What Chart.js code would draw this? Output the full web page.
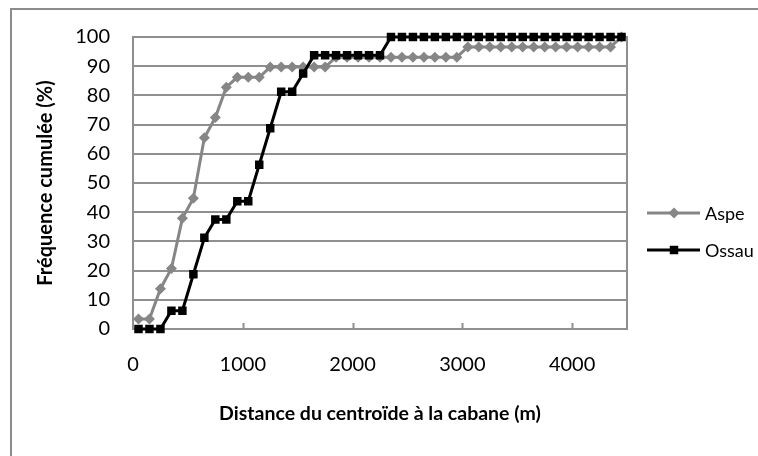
<!DOCTYPE html>
<html>
<head>
<meta charset="utf-8">
<script src="https://cdn.jsdelivr.net/npm/chart.js@4.4.0/dist/chart.umd.min.js"></script>
<style>
  html, body { margin: 0; padding: 0; background: #fff; }
  #wrap { position: relative; width: 758px; height: 456px; overflow: hidden; }
  #frame { position: absolute; left: 10px; top: 8px; right: -10px; bottom: -10px;
           border-left: 2px solid #8c8c8c; border-top: 2px solid #8c8c8c; }
  canvas { position: absolute; left: 0; top: 0; }
</style>
</head>
<body>
<div id="wrap">
  <div id="frame"></div>
  <canvas id="chart" width="758" height="456"></canvas>
</div>
<script>
// distance classes (m), centre of each 100 m bin
const distances = [50, 150, 250, 350, 450, 550, 650, 750, 850, 950,
  1050, 1150, 1250, 1350, 1450, 1550, 1650, 1750, 1850, 1950,
  2050, 2150, 2250, 2350, 2450, 2550, 2650, 2750, 2850, 2950,
  3050, 3150, 3250, 3350, 3450, 3550, 3650, 3750, 3850, 3950,
  4050, 4150, 4250, 4350, 4450];

// cumulative frequency (%) per valley
const aspe = [3.4, 3.4, 13.8, 20.7, 37.9, 44.8, 65.5, 72.4, 82.8, 86.2,
  86.2, 86.2, 89.7, 89.7, 89.7, 89.7, 89.7, 89.7, 93.1, 93.1,
  93.1, 93.1, 93.1, 93.1, 93.1, 93.1, 93.1, 93.1, 93.1, 93.1,
  96.6, 96.6, 96.6, 96.6, 96.6, 96.6, 96.6, 96.6, 96.6, 96.6,
  96.6, 96.6, 96.6, 96.6, 100];

const ossau = [0, 0, 0, 6.25, 6.25, 18.75, 31.25, 37.5, 37.5, 43.75,
  43.75, 56.25, 68.75, 81.25, 81.25, 87.5, 93.75, 93.75, 93.75, 93.75,
  93.75, 93.75, 93.75, 100, 100, 100, 100, 100, 100, 100,
  100, 100, 100, 100, 100, 100, 100, 100, 100, 100,
  100, 100, 100, 100, 100];

const xTicks = [0, 1000, 2000, 3000, 4000];
const yTicks = [0, 10, 20, 30, 40, 50, 60, 70, 80, 90, 100];

const GRID = "#8f8f8f";
const FONT = "Lato";

const toPoints = ys => ys.map((y, i) => ({ x: distances[i], y }));

// right-hand border of the plot, inner tick marks, and the side legend
const extras = {
  id: "extras",
  afterDraw(chart) {
    const { ctx, chartArea: a } = chart;
    const xs = chart.scales.x;
    ctx.save();
    ctx.strokeStyle = GRID;
    ctx.lineWidth = 2;
    ctx.beginPath();
    ctx.moveTo(Math.round(a.right), a.top - 1);
    ctx.lineTo(Math.round(a.right), a.bottom + 1);
    xTicks.slice(1).forEach(v => {
      const px = Math.round(xs.getPixelForValue(v)) + 0.5;
      ctx.moveTo(px, a.bottom);
      ctx.lineTo(px, a.bottom - 6);
    });
    ctx.stroke();

    // legend
    const rows = [213, 250];
    chart.data.datasets.forEach((ds, i) => {
      const y = rows[i];
      ctx.strokeStyle = ds.borderColor;
      ctx.fillStyle = ds.borderColor;
      ctx.lineWidth = ds.borderWidth;
      ctx.beginPath();
      ctx.moveTo(647, y);
      ctx.lineTo(700, y);
      ctx.stroke();
      Chart.helpers.drawPoint(ctx, {
        pointStyle: ds.pointStyle, radius: ds.pointRadius, rotation: 0, borderWidth: 0
      }, 674, y);
      ctx.fillStyle = "#000";
      ctx.font = "18px " + FONT;
      ctx.textBaseline = "middle";
      ctx.fillText(ds.label, 705, y + 1);
    });
    ctx.restore();
  }
};

new Chart(document.getElementById("chart"), {
  type: "line",
  data: {
    datasets: [
      {
        label: "Aspe",
        data: toPoints(aspe),
        borderColor: "#868686",
        backgroundColor: "#868686",
        borderWidth: 3,
        pointStyle: "rectRot",
        pointRadius: 5.5,
        pointBorderWidth: 0,
        order: 1,
        clip: false
      },
      {
        label: "Ossau",
        data: toPoints(ossau),
        borderColor: "#000000",
        backgroundColor: "#000000",
        borderWidth: 3,
        pointStyle: "rect",
        pointRadius: 6,
        pointBorderWidth: 0,
        order: 0,
        clip: false
      }
    ]
  },
  options: {
    responsive: false,
    animation: false,
    layout: { padding: { left: 0, top: 37, right: 131, bottom: 0 } },
    plugins: { legend: { display: false }, tooltip: { enabled: false } },
    elements: { line: { tension: 0 } },
    scales: {
      x: {
        type: "linear",
        min: 0,
        max: 4500,
        afterBuildTicks: s => { s.ticks = xTicks.map(v => ({ value: v })); },
        afterFit: s => { s.height = 127; },
        grid: { display: false, drawTicks: false },
        border: { display: true, color: GRID, width: 2 },
        ticks: {
          color: "#000", padding: 24, maxRotation: 0,
          font: { family: FONT, size: 20 },
          callback: v => String(v)
        },
        title: {
          display: true,
          text: "Distance du centroïde à la cabane (m)",
          color: "#000",
          font: { family: FONT, size: 19.5, weight: "bold" },
          padding: { top: 0, bottom: 31 }
        }
      },
      y: {
        min: 0,
        max: 100,
        afterBuildTicks: s => { s.ticks = yTicks.map(v => ({ value: v })); },
        afterFit: s => { s.width = 133; },
        grid: { color: GRID, lineWidth: 2, drawTicks: false },
        border: { display: true, color: GRID, width: 2 },
        ticks: { color: "#000", padding: 23, font: { family: FONT, size: 20 } },
        title: {
          display: true,
          text: "Fréquence cumulée (%)",
          color: "#000",
          font: { family: FONT, size: 20, weight: "bold" },
          padding: { top: 34, bottom: 0 }
        }
      }
    }
  },
  plugins: [extras]
});
</script>
</body>
</html>
